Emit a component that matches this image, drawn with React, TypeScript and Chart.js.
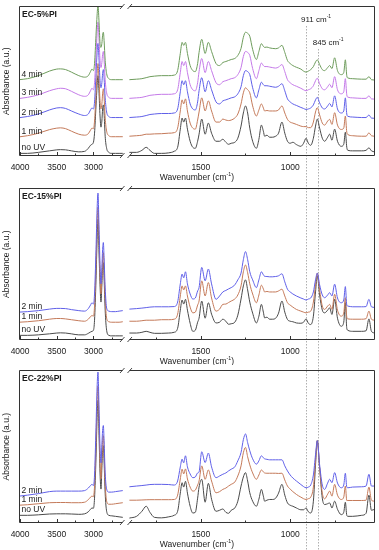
import React, { useEffect, useRef } from 'react';
import { Chart, registerables } from 'chart.js';
Chart.register(...registerables);

const FONT = '"Liberation Sans", Arial, Helvetica, sans-serif';

// ---- x axes (broken axis) ----
const leftAxisRange = [2556, 4015];
const rightAxisRange = [525, 1919];
const leftTicks = [4000, 3750, 3500, 3250, 3000, 2750];
const rightTicks = [1750, 1500, 1250, 1000, 750];
const labelStep = 500;
const markerWavenumbers = [911, 845];
const markerLabels = ['911', '845'];

// ---- wavenumber grids ----
const leftWavenumbers = [4015, 3900, 3750, 3600, 3500, 3450, 3380, 3300, 3200, 3120, 3070, 3040, 3020, 3000, 2985, 2965, 2950, 2938, 2925, 2910, 2897, 2885, 2875, 2865, 2855, 2840, 2820, 2790, 2750, 2700, 2650, 2600];
const rightWavenumbers = [1900, 1860, 1830, 1806, 1785, 1760, 1720, 1680, 1650, 1630, 1615, 1605, 1596, 1586, 1575, 1560, 1545, 1531, 1518, 1510, 1495, 1476, 1458, 1440, 1415, 1395, 1377, 1360, 1345, 1330, 1310, 1293, 1275, 1262, 1250, 1238, 1226, 1210, 1189, 1175, 1161, 1150, 1143, 1130, 1115, 1100, 1081, 1065, 1046, 1030, 1015, 1000, 985, 965, 940, 925, 911, 898, 885, 870, 858, 848, 835, 820, 807, 790, 779, 766, 751, 735, 714, 700, 691, 683, 677, 650, 600, 575, 559, 545, 527];

// ---- EC-5%PI ----
const ec5NoUvLeft = [3, 3, 4, 5.5, 6.5, 6.7, 6.5, 5.5, 4.5, 5, 8, 11, 12, 14, 23, 50, 70, 80, 65, 40, 29, 35, 47, 51, 43, 20, 8, 4, 3, 3, 3, 3];
const ec5Min1Left = [19.3, 20.5, 23, 26.5, 28, 28.3, 27.5, 25, 22, 21, 22.5, 26, 28, 27.5, 35, 62, 82, 92, 78, 55, 47, 52, 62, 67, 59, 38, 25, 20.5, 19.5, 19.5, 19.5, 19.5];
const ec5Min2Left = [38.3, 39.5, 42, 46, 48, 48.3, 47.5, 45, 42, 40.5, 42, 46, 48, 47, 54, 82, 103, 112, 98, 75, 68, 73, 82, 86, 78, 58, 44, 39.5, 38.5, 38.5, 38.5, 38.5];
const ec5Min3Left = [57.3, 58.5, 61, 65, 67, 67.5, 67, 64.5, 61, 59.5, 61, 65, 67.5, 66, 73, 100, 122, 133, 118, 95, 88, 93, 101, 104, 96, 76, 63, 58.5, 57.5, 57.5, 57.5, 57.5];
const ec5Min4Left = [76, 77, 80, 84.5, 86.5, 86.7, 86, 83.5, 80, 78.5, 80, 84, 86.5, 85, 92, 120, 140, 150, 135, 112, 108, 112, 120, 123, 115, 95, 82, 77, 76, 76, 76, 76];

const ec5NoUvRight = [4, 4, 6, 9, 6, 3, 3, 3.5, 5, 9, 27, 38, 34, 38, 27, 15, 9, 8, 15, 22, 37, 22, 33, 23, 15, 15, 17, 14, 12, 13, 14, 18, 30, 43, 50, 43, 28, 15, 8, 17, 31, 25, 20, 21, 19, 19, 20, 23, 34, 23, 15, 13, 14, 11.7, 10, 13, 18, 13, 11, 18, 30, 37, 28, 18, 15, 19, 22, 16, 27, 15, 10, 12, 24, 9, 6, 5.5, 5.5, 6, 8.5, 5.5, 4.5];
const ec5Min1Right = [20, 20.5, 21, 22, 22, 22.3, 22.5, 23, 23.5, 28, 45, 56, 52, 57, 45, 33, 28, 27, 36, 44, 58, 45, 55, 45, 34, 34, 37, 36, 35.5, 36, 38, 42, 52, 63, 68, 66, 63, 50, 40, 46, 52, 48, 45, 45.5, 45, 45, 45, 46, 50, 43, 36.7, 34, 33, 31.7, 30, 29.5, 29.5, 28.5, 28.5, 34, 44, 48.3, 41, 33, 31, 35, 36.7, 31.7, 43.3, 31, 26.7, 28, 40, 24, 21.7, 20.5, 20, 20, 23.3, 20.5, 20];
const ec5Min2Right = [38.5, 39, 39.5, 40.5, 41.5, 42, 42.5, 42.5, 43, 47, 64, 75, 71, 75, 64, 52, 47, 46, 54, 65, 78, 64, 75, 66, 54, 52, 55, 56, 57, 58, 59, 62, 69, 80, 85, 84, 81, 68, 58, 66, 73.5, 71, 70, 70, 69.5, 69, 68.5, 69.5, 72, 65, 57, 54, 52, 50.5, 48.5, 47.5, 46.5, 47, 48, 51, 56, 58.5, 53, 48, 47, 50, 52.5, 49, 60, 47, 43, 45, 58, 42, 39.7, 39, 38.5, 38.5, 41, 38, 37.8];
const ec5Min3Right = [57.5, 58, 58.5, 59.5, 60.5, 61, 61.5, 61.5, 62, 66, 83, 94, 90, 94, 83, 71, 66, 65, 73, 84, 97, 83, 94, 85, 73, 71, 74, 75, 76, 77, 78, 81, 88, 99, 104, 103, 100, 87, 77, 85, 92.5, 90, 89, 89, 88.5, 88, 87.5, 88.5, 91, 84, 76, 73, 71, 69.5, 67.5, 66, 65, 66, 67, 70, 75, 77.5, 72, 67, 66, 69, 71.5, 68, 79, 66, 62, 64, 77, 61, 58.7, 58, 57.5, 57.5, 60, 57, 56.8];
const ec5Min4Right = [76, 76.5, 77, 78, 79, 79.5, 80, 80, 80.5, 85, 102, 113, 110, 113, 102, 90, 85, 84, 92, 103, 116, 102, 113, 104, 92, 90, 93, 94, 95, 96, 97, 100, 107, 118, 123, 122, 119, 106, 96, 104, 111.7, 109, 108, 108.3, 107.5, 107, 106.7, 107.5, 110, 103, 95, 92, 90, 88.3, 86.5, 84.5, 83.5, 84.5, 86, 89, 93.5, 95.7, 91, 86, 85, 88, 90, 87, 97.7, 85, 81, 83, 95.7, 80, 77.7, 77, 76.5, 76.5, 79, 76, 75.7];

// ---- EC-15%PI ----
const ec15NoUvLeft = [5, 5, 5.5, 6.5, 7.3, 7.5, 7.3, 6.5, 5.5, 5.5, 7, 8.3, 9, 10, 20, 60, 100, 120, 90, 55, 38, 55, 72, 77, 62, 30, 10, 5, 4.5, 4.5, 4.5, 4.5];
const ec15Min1Left = [18, 18.5, 19.5, 21, 21.7, 21.7, 21.3, 20.5, 19.5, 19, 21, 23.5, 24.7, 24, 34, 75, 115, 132, 102, 64, 46, 62, 80, 87, 72, 42, 22, 18.5, 18, 18, 18, 18.5];
const ec15Min2Left = [28, 28.5, 29.5, 31, 31.7, 31.7, 31.5, 30.5, 29.5, 29, 31.5, 35, 37.3, 36, 46, 90, 130, 146, 115, 75, 56, 72, 90, 97, 82, 52, 32, 29, 28.5, 28.5, 29, 29.5];

const ec15NoUvRight = [7.3, 7.3, 8, 9, 8, 7, 7, 7.3, 8, 12, 30, 40, 36, 40.7, 30, 17, 9, 10, 18, 22, 39, 22, 37.3, 26, 17.3, 18, 21, 19, 16, 16.5, 18, 25, 41, 54, 60, 50, 38, 27, 17.3, 24, 35.7, 28, 22.3, 23, 21, 21, 22, 27, 39, 28, 20.7, 19, 18.5, 17.3, 17, 18, 21.3, 17, 15.7, 24, 48, 64, 45, 30, 27.3, 30, 32.3, 25.7, 40.7, 22, 14, 18, 37.3, 12, 10, 9, 9, 9.5, 21.3, 9, 7.3];
const ec15Min1Right = [19, 19, 19.5, 20, 20, 20, 20.5, 20.5, 21, 26, 44, 54, 50, 54, 44, 33, 27.3, 28, 35, 39, 59, 44, 57.3, 42, 29, 31, 35.7, 36, 37.5, 39, 41, 45, 54, 68, 74.7, 67, 56, 46, 37.3, 45, 54.7, 51, 48, 48.5, 48, 48, 48, 49, 50.7, 44, 37.3, 35, 33, 30.7, 29, 28, 27.3, 28, 29, 38, 55, 66.7, 50, 34, 30.7, 34, 35.7, 30.7, 45.7, 30, 24, 27, 42.3, 23, 21.3, 21, 21, 21.5, 29, 21, 20];
const ec15Min2Right = [31, 31.5, 32, 32.5, 33, 33.3, 33.3, 33.3, 33.5, 38, 56, 65.7, 62, 68, 56, 46, 41, 42, 49, 52.3, 72.3, 59, 70.7, 56, 40.7, 44, 48, 49.5, 51, 52.3, 55, 60, 66.7, 80, 88, 80, 68, 60, 52.3, 60, 68, 65, 63.5, 63.3, 63, 63, 63.3, 64, 66, 58, 50.7, 48, 46, 44, 42, 41, 40, 41, 42, 48, 60, 66.7, 55, 45, 42.3, 45, 47.3, 44, 55.7, 42, 37.3, 40, 53.3, 35, 34, 33.3, 33.3, 33.5, 40.7, 33.3, 32.7];

// ---- EC-22%PI ----
const ec22NoUvLeft = [8, 8, 8.5, 9.3, 9.5, 9.5, 9.5, 9.3, 9, 9.5, 11.5, 14, 15.3, 15, 25, 65, 105, 122, 92, 50, 34, 55, 72, 77, 62, 30, 12, 8, 7.5, 7, 6.5, 6];
const ec22Min1Left = [18, 18.5, 19.5, 20.5, 20.7, 20.7, 20.7, 20.5, 20.5, 21, 23.5, 26, 27, 26.5, 37, 80, 120, 136, 104, 60, 44, 64, 82, 87, 72, 40, 22, 19, 19, 19.5, 20, 20.5];
const ec22Min2Left = [27, 28, 29.5, 31.5, 32, 32, 32, 32, 32, 32.5, 35, 37.5, 38.7, 37.5, 48, 95, 135, 150, 118, 75, 60, 78, 92, 97, 82, 50, 34, 31, 31, 31.5, 32, 32.5];

const ec22NoUvRight = [5.3, 7, 12, 17, 11, 6, 5.5, 6.5, 8, 12, 30, 40.3, 36, 41.7, 30, 17, 10.3, 11, 25, 36, 43.7, 21, 39.7, 24, 12, 13, 14.3, 11, 10, 13, 15.3, 22, 37, 46, 50.3, 42, 30.3, 22, 17, 24, 33.7, 27, 22, 23, 23.7, 23.7, 25, 30, 38.7, 28, 20.3, 18, 17, 15.3, 13.5, 13.5, 15.3, 11.5, 10.3, 22, 58, 82, 55, 25, 18.7, 19.5, 20.3, 15.3, 22, 14, 8.7, 11, 21, 8, 7, 7, 8, 10, 28, 13, 14];
const ec22Min1Right = [23, 23, 23.2, 23.4, 23.5, 23.5, 23.5, 23.5, 23.7, 28, 44, 53.7, 49, 54, 44, 36, 32, 33, 38, 42, 57, 43.7, 53, 42, 30.3, 31.5, 33.7, 35, 37, 38.7, 41, 47, 57, 70, 75.3, 66, 58, 50, 43.7, 48, 53, 51, 50, 49.7, 49.7, 49.7, 49.7, 49.5, 49.7, 43, 37, 34, 31.5, 28.7, 26, 24.5, 23.7, 24.5, 26, 36, 62, 82, 55, 30, 24.3, 29, 32, 27, 38.7, 28, 23.7, 26, 37, 22.7, 22.7, 22.7, 22.7, 23, 36, 23, 22];
const ec22Min2Right = [36.3, 37, 37.5, 38, 38.5, 38.7, 38.7, 38.5, 38, 42, 56, 63.7, 60, 67, 56, 49, 45.3, 46, 50, 51, 71, 60.3, 69.7, 56, 45.3, 47, 48.7, 50, 52, 53.7, 56, 62, 70.3, 83, 88.7, 80, 72, 64, 58.7, 62, 67, 65, 64, 63.5, 63, 63, 63, 63, 63, 57, 52, 48, 45, 42, 38.5, 36.5, 35.3, 36, 38, 48, 68, 82, 58, 38, 33.7, 40, 43.7, 40.3, 50.3, 40, 35.3, 38, 49.7, 36, 35.3, 36, 36.3, 37, 48.7, 37, 37];

const seriesNames = ['no UV', '1 min', '2 min', '3 min', '4 min'];
const seriesColors = ['#4a4a4a', '#c47a5a', '#6060e8', '#c47ae8', '#6e9c5c'];

type Series = { name: string; color: string; left: number[]; right: number[] };
type PanelCfg = {
  title: string; top: number; height: number; padTop: number; padBottom: number;
  yMax: number; series: Series[]; markerText: boolean;
};

const mk = (i: number, left: number[], right: number[]): Series => ({ name: seriesNames[i], color: seriesColors[i], left, right });

const panels: PanelCfg[] = [
  {
    title: 'EC-5%PI', top: 0, height: 182, padTop: 6, padBottom: 2.2, yMax: 149, markerText: true,
    series: [mk(4, ec5Min4Left, ec5Min4Right), mk(3, ec5Min3Left, ec5Min3Right), mk(2, ec5Min2Left, ec5Min2Right), mk(1, ec5Min1Left, ec5Min1Right), mk(0, ec5NoUvLeft, ec5NoUvRight)],
  },
  {
    title: 'EC-15%PI', top: 182, height: 183, padTop: 6, padBottom: 1.2, yMax: 151, markerText: false,
    series: [mk(2, ec15Min2Left, ec15Min2Right), mk(1, ec15Min1Left, ec15Min1Right), mk(0, ec15NoUvLeft, ec15NoUvRight)],
  },
  {
    title: 'EC-22%PI', top: 365, height: 185, padTop: 5, padBottom: 3.2, yMax: 152, markerText: false,
    series: [mk(2, ec22Min2Left, ec22Min2Right), mk(1, ec22Min1Left, ec22Min1Right), mk(0, ec22NoUvLeft, ec22NoUvRight)],
  },
];

function drawSupText(ctx: CanvasRenderingContext2D, base: string, sup: string, tail: string, x: number, y: number, size: number, align: 'left' | 'center') {
  const supSize = size * 0.62;
  ctx.font = `${size}px ${FONT}`;
  const w1 = ctx.measureText(base).width;
  const w3 = ctx.measureText(tail).width;
  ctx.font = `${supSize}px ${FONT}`;
  const w2 = ctx.measureText(sup).width;
  const total = w1 + w2 + w3;
  let cx = align === 'center' ? x - total / 2 : x;
  ctx.textAlign = 'left';
  ctx.textBaseline = 'middle';
  ctx.font = `${size}px ${FONT}`;
  ctx.fillText(base, cx, y);
  cx += w1;
  ctx.font = `${supSize}px ${FONT}`;
  ctx.fillText(sup, cx, y - size * 0.38);
  cx += w2;
  ctx.font = `${size}px ${FONT}`;
  ctx.fillText(tail, cx, y);
}

function makePlugin(cfg: PanelCfg) {
  return {
    id: 'panelDecor',
    beforeDatasetsDraw(chart: any) {
      const ctx: CanvasRenderingContext2D = chart.ctx;
      const xr = chart.scales.xr;
      const area = chart.chartArea;
      ctx.save();
      ctx.strokeStyle = '#9a9a9a';
      ctx.lineWidth = 0.8;
      ctx.setLineDash([1.5, 1.5]);
      markerWavenumbers.forEach((w, i) => {
        const px = Math.round(xr.getPixelForValue(w)) + 0.5;
        const y0 = cfg.markerText ? area.top + (i === 0 ? 20 : 43) : 0;
        ctx.beginPath();
        ctx.moveTo(px, y0);
        ctx.lineTo(px, chart.height);
        ctx.stroke();
      });
      ctx.restore();
    },
    afterDraw(chart: any) {
      const ctx: CanvasRenderingContext2D = chart.ctx;
      const { left, right, top, bottom } = chart.chartArea;
      const xl = chart.scales.xl;
      const xr = chart.scales.xr;
      const y = chart.scales.y;
      const split = xl.right;
      ctx.save();
      ctx.strokeStyle = '#333';
      ctx.lineWidth = 1;
      ctx.setLineDash([]);
      const T = Math.round(top) + 0.5;
      const B = Math.round(bottom) - 0.5;
      const L = Math.round(left) + 0.5;
      const R = Math.round(right) - 0.5;
      ctx.beginPath();
      ctx.moveTo(L, T); ctx.lineTo(split - 3.5, T);
      ctx.moveTo(split + 3.5, T); ctx.lineTo(R, T);
      ctx.moveTo(L, B); ctx.lineTo(split - 3.5, B);
      ctx.moveTo(split + 3.5, B); ctx.lineTo(R, B);
      ctx.moveTo(L, T); ctx.lineTo(L, B);
      ctx.moveTo(R, T); ctx.lineTo(R, B);
      ctx.stroke();
      // break marks
      ctx.lineWidth = 0.9;
      ctx.beginPath();
      [T, B].forEach((yy) => {
        ctx.moveTo(split - 6, yy + 2.5); ctx.lineTo(split - 1.5, yy - 2.5);
        ctx.moveTo(split + 1.5, yy + 2.5); ctx.lineTo(split + 6, yy - 2.5);
      });
      ctx.stroke();
      // inward ticks
      ctx.lineWidth = 1;
      ctx.beginPath();
      [xl, xr].forEach((sc: any) => {
        sc.ticks.forEach((t: any) => {
          const px = Math.round(sc.getPixelForValue(t.value)) + 0.5;
          const len = t.value % labelStep === 0 ? 3.5 : 2;
          ctx.moveTo(px, B); ctx.lineTo(px, B - len);
        });
      });
      ctx.stroke();
      // texts
      ctx.fillStyle = '#1a1a1a';
      ctx.textBaseline = 'middle';
      ctx.textAlign = 'left';
      ctx.font = `bold 8.5px ${FONT}`;
      ctx.fillText(cfg.title, left + 3, top + 9);
      ctx.font = `8.5px ${FONT}`;
      cfg.series.forEach((s) => {
        const py = y.getPixelForValue(s.left[0]) - 5.5;
        ctx.fillText(s.name, left + 2.5, py);
      });
      drawSupText(ctx, 'Wavenumber (cm', '-1', ')', (left + right) / 2, bottom + 21.5, 8.5, 'center');
      if (cfg.markerText) {
        markerWavenumbers.forEach((w, i) => {
          const px = xr.getPixelForValue(w);
          drawSupText(ctx, markerLabels[i] + ' cm', '-1', '', px - 5, top + (i === 0 ? 14 : 37), 8, 'left');
        });
      }
      ctx.restore();
    },
  };
}

function xAxis(range: number[], weight: number, tickValues: number[]) {
  return {
    type: 'linear' as const,
    position: 'bottom' as const,
    stack: 'wn',
    stackWeight: weight,
    min: range[0],
    max: range[1],
    reverse: true,
    grid: { display: false, drawTicks: false },
    border: { display: false },
    afterBuildTicks: (scale: any) => {
      scale.ticks = tickValues.map((v) => ({ value: v }));
    },
    ticks: {
      autoSkip: false,
      maxTicksLimit: 40,
      maxRotation: 0,
      minRotation: 0,
      padding: 6.6,
      color: '#1a1a1a',
      font: { size: 8.5, family: FONT, lineHeight: 1.2 },
      callback: (v: any) => (Number(v) % labelStep === 0 ? String(v) : ''),
    },
  };
}

function Panel({ cfg }: { cfg: PanelCfg }) {
  const ref = useRef<HTMLCanvasElement>(null);
  useEffect(() => {
    if (!ref.current) return;
    const datasets: any[] = [];
    cfg.series.forEach((s) => {
      const common = { borderColor: s.color, borderWidth: 1, pointRadius: 0, fill: false, cubicInterpolationMode: 'monotone', yAxisID: 'y', label: s.name };
      datasets.push({ ...common, xAxisID: 'xl', data: leftWavenumbers.map((x, i) => ({ x, y: s.left[i] })) });
      datasets.push({ ...common, xAxisID: 'xr', data: rightWavenumbers.map((x, i) => ({ x, y: s.right[i] })) });
    });
    const chart = new Chart(ref.current, {
      type: 'line',
      data: { datasets },
      options: {
        responsive: false,
        devicePixelRatio: 1,
        animation: false,
        events: [],
        layout: { padding: { top: cfg.padTop, right: 4, bottom: cfg.padBottom, left: 0 } },
        plugins: { legend: { display: false }, tooltip: { enabled: false } },
        scales: {
          xl: xAxis(leftAxisRange, 107, leftTicks),
          xr: xAxis(rightAxisRange, 249, rightTicks),
          y: {
            type: 'linear',
            position: 'left',
            min: 0,
            max: cfg.yMax,
            grid: { display: false, drawTicks: false },
            border: { display: false },
            ticks: { display: false },
            title: {
              display: true,
              text: 'Absorbance (a.u.)',
              color: '#1a1a1a',
              font: { size: 8.5, family: FONT, lineHeight: 1.2 },
              padding: { top: 2, bottom: 6.8 },
            },
          },
        },
      } as any,
      plugins: [makePlugin(cfg)],
    });
    return () => chart.destroy();
  }, [cfg]);
  return (
    <canvas
      ref={ref}
      width={379}
      height={cfg.height}
      style={{ position: 'absolute', left: 0, top: cfg.top, width: 379, height: cfg.height, display: 'block' }}
    />
  );
}

export default function App() {
  return (
    <div style={{ position: 'absolute', left: 0, top: 0, width: 379, height: 550, background: '#fff', overflow: 'hidden' }}>
      {panels.map((p) => (
        <Panel key={p.title} cfg={p} />
      ))}
    </div>
  );
}
